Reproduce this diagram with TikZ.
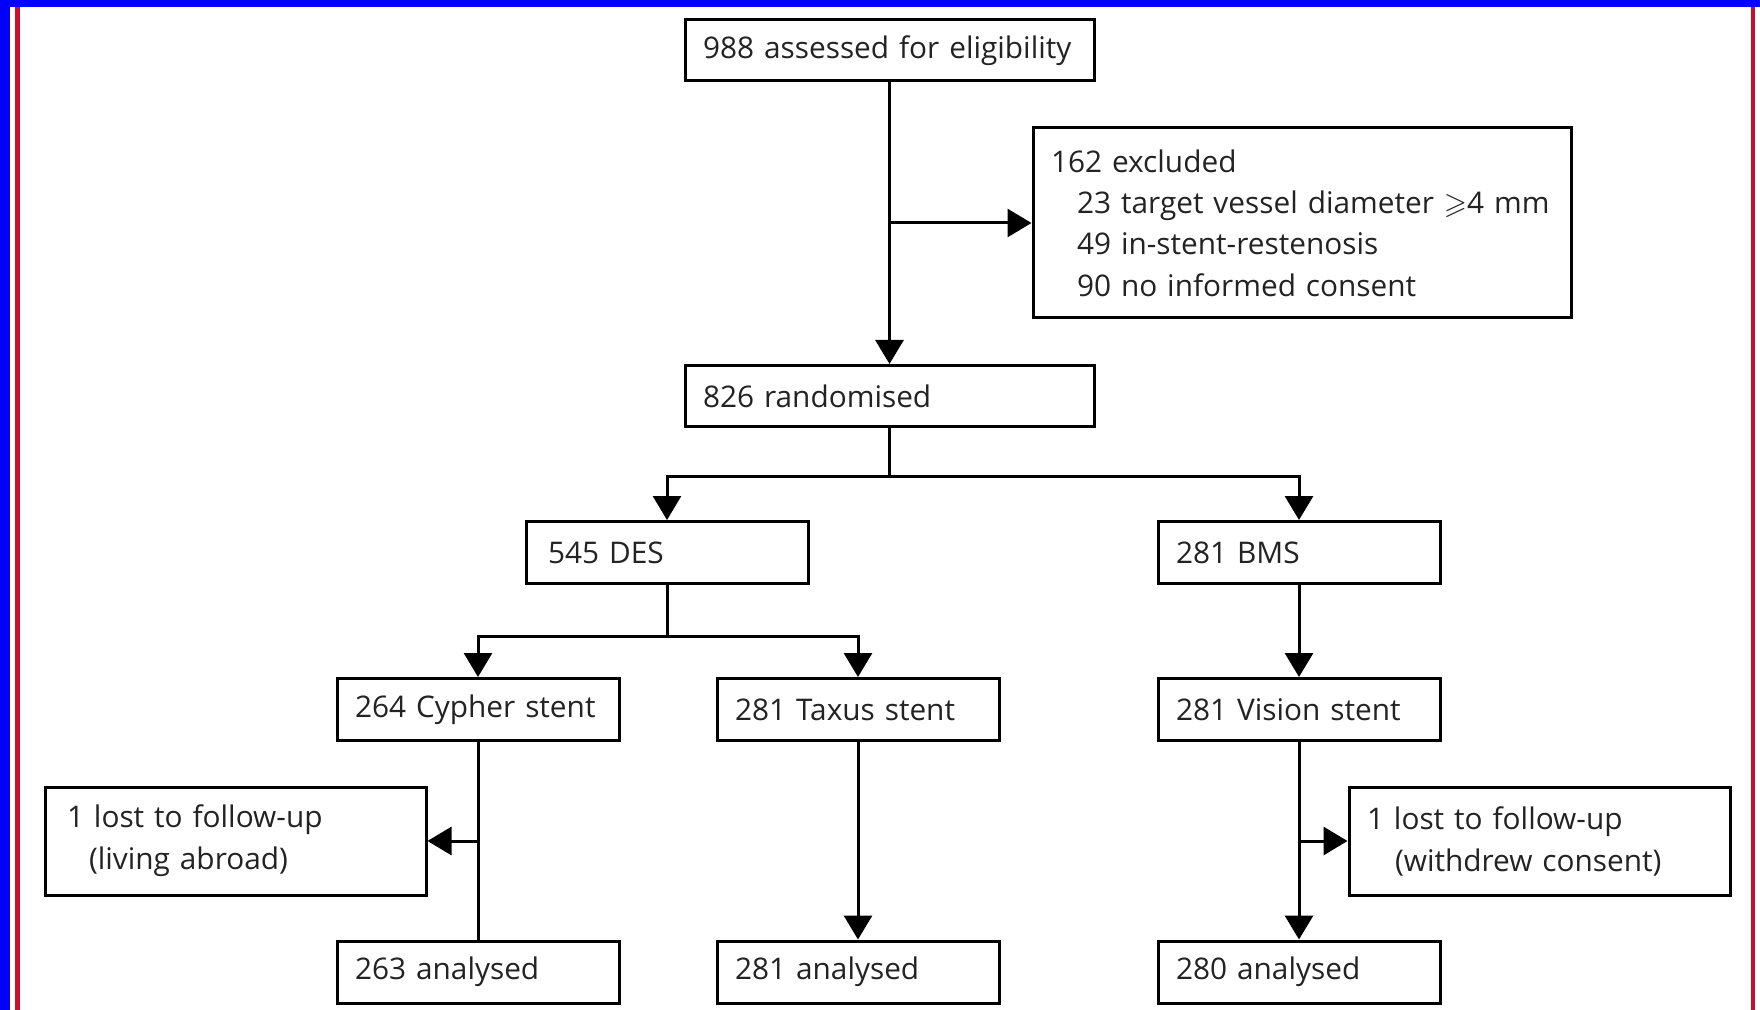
\documentclass[tikz,border=0pt]{standalone}
\usepackage{amsmath,amssymb}
\usepackage{fontspec}
\setmainfont{Open Sans}
\usepackage{xcolor}
\definecolor{cfBlue}{RGB}{0, 0, 255}
\definecolor{cfRed}{RGB}{200, 16, 46}
\definecolor{cfText}{RGB}{35, 35, 35}
\usepackage{tikz}
\usetikzlibrary{
    arrows.meta,
    positioning,
    calc
}

\begin{document}
\begin{tikzpicture}[
    x=0.5pt, y=-0.5pt,
    stageNode/.style={
        rectangle, draw=black, line width=1.5pt,
        fill=white, text=cfText,
        align=left, font=\fontsize{14.9}{20.7}\selectfont,
        inner xsep=9pt, inner ysep=0pt,
        text width=123pt, minimum height=31pt
    },
    wideNode/.style={
        stageNode, text width=186.5pt, minimum height=30.5pt
    },
    exclNode/.style={
        stageNode, text width=251pt, minimum height=95pt
    },
    lostNode/.style={
        stageNode, text width=172.5pt, minimum height=54pt,
        font=\fontsize{14.9}{21}\selectfont
    },
    flowArrow/.style={
        -{Triangle[length=12pt, width=14pt]}, line width=1.5pt, draw=black
    },
    plainLine/.style={
        line width=1.5pt, draw=black
    }
]
    \useasboundingbox (0,0) rectangle (1760,1010);

    % Frame
    \fill[cfBlue] (0,0) rectangle (10,1010);
    \fill[cfBlue] (0,0) rectangle (1760,7);
    \draw[cfRed, line width=2.25pt] (17.5,7) -- (17.5,1010);
    \draw[cfRed, line width=2pt] (1753,7) -- (1753,1010);

    % Enrolment
    \node[wideNode] (assess) at (889.5, 50.5) {988 assessed for eligibility};

    \node[exclNode] (excl) at (1302, 223) {
        162 excluded\\
        \mbox{\hspace*{13pt}23 target vessel diameter $\geqslant$4 mm}\\
        \hspace*{13pt}49 in-stent-restenosis\\
        \hspace*{13pt}90 no informed consent
    };

    \node[wideNode] (rand) at (889.5, 396) {826 randomised};

    % Allocation
    \node[stageNode, inner xsep=11pt, text width=119pt] (des) at (667, 552.5) {545 DES};
    \node[stageNode] (bms) at (1299, 552.5) {281 BMS};

    \node[stageNode] (cypher) at (478, 709.5) {264 Cypher stent};
    \node[stageNode] (taxus) at (858, 709.5) {281 Taxus stent};
    \node[stageNode] (vision) at (1299, 709.5) {281 Vision stent};

    % Follow-up
    \node[lostNode, inner xsep=11pt, text width=168.5pt] (lostCypher) at (235.5, 841) {
        1 lost to follow-up\\
        \hspace*{11pt}(living abroad)
    };
    \node[lostNode] (lostVision) at (1539.5, 841) {
        1 lost to follow-up\\
        \hspace*{14pt}(withdrew consent)
    };

    % Analysis
    \node[stageNode] (anaCypher) at (478, 972) {263 analysed};
    \node[stageNode] (anaTaxus) at (858, 972) {281 analysed};
    \node[stageNode] (anaVision) at (1299, 972) {280 analysed};

    % Connectors
    \draw[flowArrow] (assess) -- (rand);
    \draw[flowArrow] (assess.south |- excl.west) -- (excl.west);

    \draw[flowArrow] (rand.south) -- ++(0,48) -| (des.north);
    \draw[flowArrow] (rand.south) -- ++(0,48) -| (bms.north);

    \draw[flowArrow] (des.south) -- ++(0,51) -| (cypher.north);
    \draw[flowArrow] (des.south) -- ++(0,51) -| (taxus.north);
    \draw[flowArrow] (bms) -- (vision);

    \draw[plainLine] (cypher) -- (anaCypher);
    \draw[flowArrow] (cypher.south |- lostCypher.east) -- (lostCypher.east);
    \draw[flowArrow] (taxus) -- (anaTaxus);
    \draw[flowArrow] (vision) -- (anaVision);
    \draw[flowArrow] (vision.south |- lostVision.west) -- (lostVision.west);

\end{tikzpicture}
\end{document}
